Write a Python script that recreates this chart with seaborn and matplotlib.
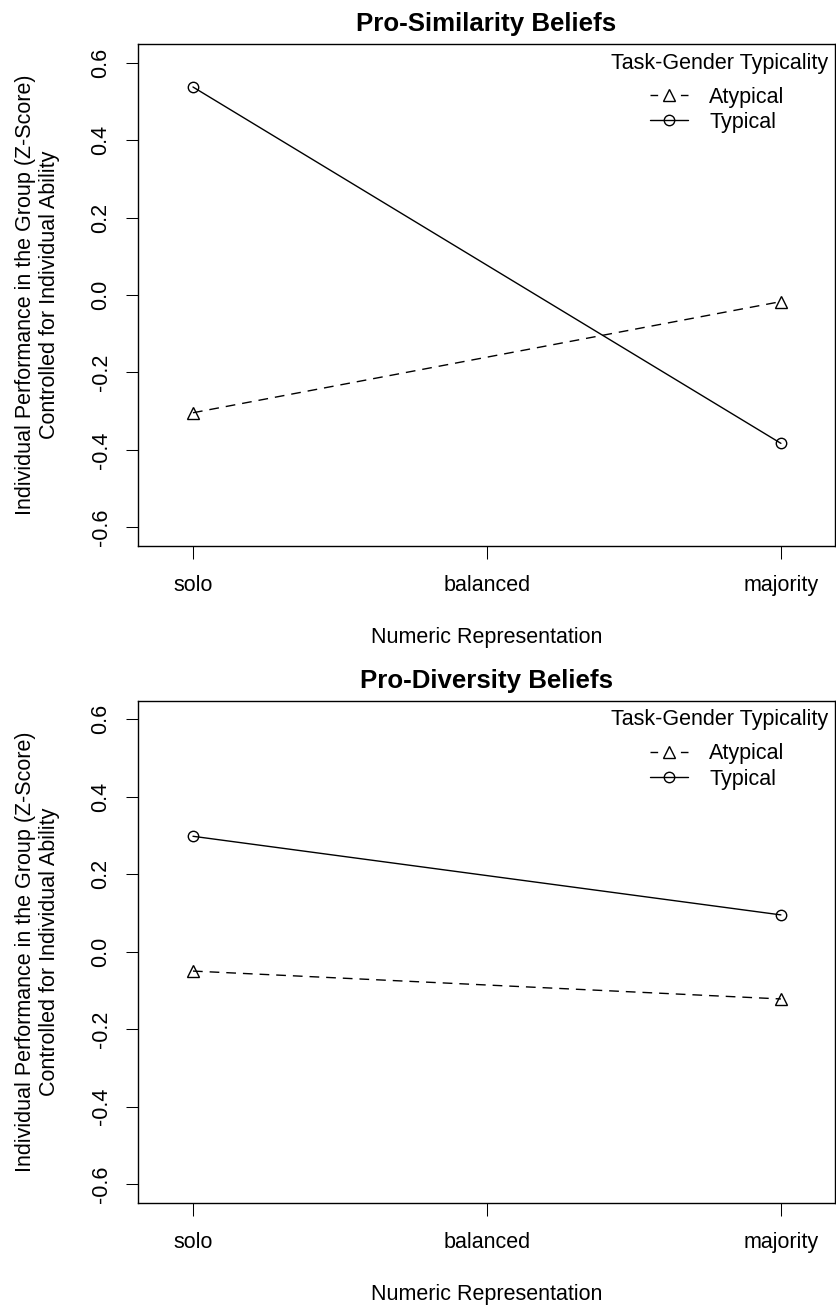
import numpy as np
import pandas as pd
import matplotlib
matplotlib.use("Agg")
import matplotlib.pyplot as plt
import seaborn as sns
from matplotlib.lines import Line2D

# ---- data ----
levels = ["solo", "balanced", "majority"]
obs_levels = ["solo", "majority"]
groups = ["Atypical", "Typical"]
titles = ["Pro-Similarity Beliefs", "Pro-Diversity Beliefs"]
sim_atypical = [-0.304, -0.017]
sim_typical = [0.537, -0.383]
div_atypical = [-0.050, -0.122]
div_typical = [0.298, 0.095]
yticks = [-0.6, -0.4, -0.2, 0.0, 0.2, 0.4, 0.6]
ytick_labels = ["%.1f" % v for v in yticks]

sns.set_style("white")
plt.rcParams["font.family"] = ["Liberation Sans", "DejaVu Sans"]
plt.rcParams["axes.unicode_minus"] = False
plt.rcParams["text.color"] = "black"
plt.rcParams["axes.labelcolor"] = "black"
plt.rcParams["xtick.color"] = "black"
plt.rcParams["ytick.color"] = "black"

W, H = 836, 1306
fig = plt.figure(figsize=(W / 100, H / 100), dpi=100)
ax1 = fig.add_axes([138 / W, 1 - 546 / H, 697 / W, 502 / H])
ax2 = fig.add_axes([138 / W, 1 - 1202.7 / H, 697 / W, 502 / H])

FS = 15.5
panels = [(ax1, titles[0], sim_atypical, sim_typical),
          (ax2, titles[1], div_atypical, div_typical)]

for ax, title, atyp, typ in panels:
    df = pd.DataFrame({
        "Representation": obs_levels * 2,
        "Typicality": [groups[0]] * 2 + [groups[1]] * 2,
        "Score": list(atyp) + list(typ),
    })
    df["pos"] = [levels.index(r) + 1 for r in df["Representation"]]
    sns.lineplot(data=df, x="pos", y="Score", style="Typicality",
                 style_order=groups,
                 markers={"Atypical": "^", "Typical": "o"},
                 dashes={"Atypical": (7, 5), "Typical": ""},
                 color="black", lw=1, ms=7.5, mfc="none", mec="black",
                 mew=1, legend=False, ax=ax)
    for ln in ax.lines:
        ln.set_markerfacecolor("none")
        ln.set_markeredgecolor("black")
        if ln.get_marker() == "^":
            ln.set_markersize(9)

    ax.set_xlim(0.813, 3.184)
    ax.set_ylim(-0.648, 0.648)
    ax.set_xticks([1, 2, 3])
    ax.set_xticklabels(levels)
    ax.set_yticks(yticks)
    ax.set_yticklabels(ytick_labels, rotation=90, va="center")
    ax.tick_params(axis="both", direction="out", length=9, width=0.75,
                   color="black", labelsize=FS, labelcolor="black",
                   bottom=True, left=True, top=False, right=False)
    ax.tick_params(axis="x", pad=12)
    ax.tick_params(axis="y", pad=10)
    for s in ax.spines.values():
        s.set_visible(True)
        s.set_color("black")
        s.set_linewidth(1)
    ax.grid(False)
    ax.set_title(title, fontsize=18.6, fontweight="bold", pad=9.5,
                 color="black")
    ax.set_xlabel("Numeric Representation", fontsize=FS, labelpad=22.5)
    ax.set_ylabel("Individual Performance in the Group (Z-Score)\n"
                  "Controlled for Individual Ability", fontsize=FS, labelpad=22)

    handles = [
        Line2D([], [], color="black", lw=1, ls=(0, (5.5, 16.4)), marker="^",
               ms=9, mfc="none", mec="black", mew=1),
        Line2D([], [], color="black", lw=1, ls="-", marker="o", ms=7.5,
               mfc="none", mec="black", mew=1),
    ]
    leg = ax.legend(handles, groups, loc="upper left",
                    bbox_to_anchor=(0.7346, 0.915), frameon=False, fontsize=FS,
                    handlelength=1.77, handletextpad=0.98, labelspacing=0.2,
                    borderpad=0, borderaxespad=0, numpoints=1)
    for t in leg.get_texts():
        t.set_color("black")
    ax.text(0.990, 0.962, "Task-Gender Typicality", transform=ax.transAxes,
            ha="right", va="center", fontsize=FS, color="black")

fig.savefig("out.png", dpi=100)
